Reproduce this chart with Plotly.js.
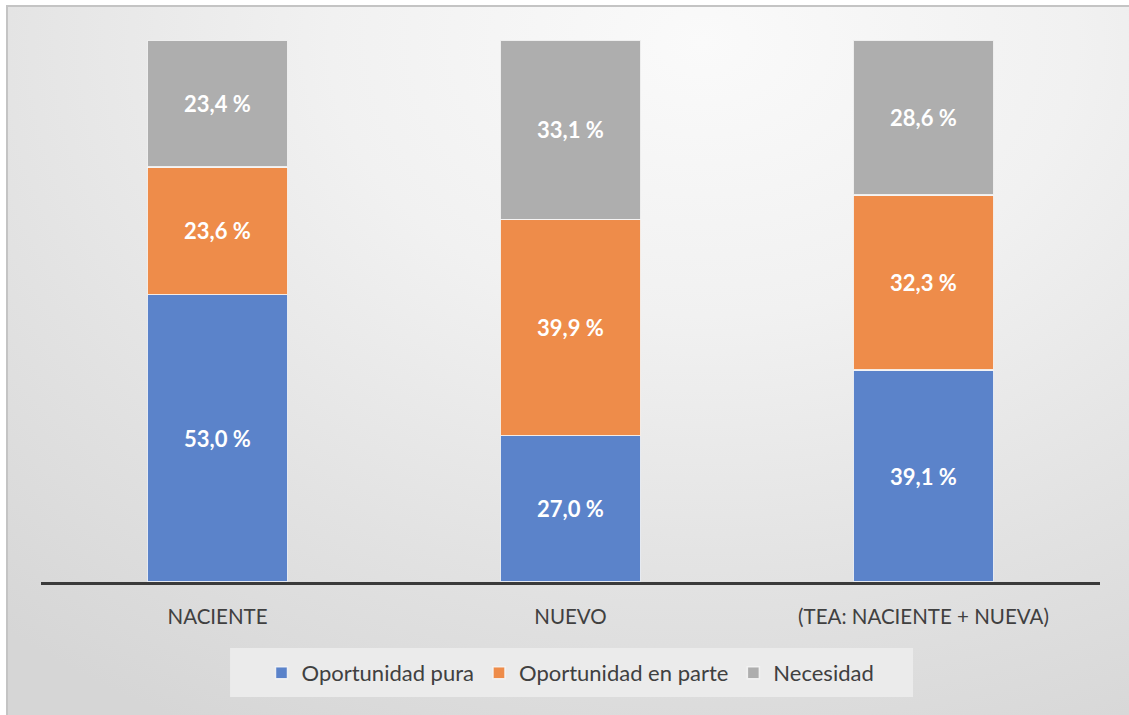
<!DOCTYPE html>
<html>
<head>
<meta charset="utf-8">
<script src="https://cdn.plot.ly/plotly-3.0.1.min.js"></script>
<style>
  html, body { margin: 0; padding: 0; background: #ffffff; }
  #frame {
    position: absolute; left: 6px; top: 5px; width: 1123px; height: 710px;
    border-left: 2px solid #c4c4c4; border-top: 2px solid #c4c4c4;
    box-sizing: border-box;
    background: radial-gradient(ellipse 95% 110% at 62% 5%, #fafafa 0%, #f1f1f1 35%, #e2e2e2 70%, #d6d6d6 100%);
  }
  #chart { position: absolute; left: 0; top: 0; width: 1129px; height: 715px; }
</style>
</head>
<body>
<div id="frame"></div>
<div id="chart"></div>
<script>
const categories = ["NACIENTE", "NUEVO", "(TEA: NACIENTE + NUEVA)"];
const oportunidadPura = [53.0, 27.0, 39.1];
const oportunidadEnParte = [23.6, 39.9, 32.3];
const necesidad = [23.4, 33.1, 28.6];
const seriesNames = ["Oportunidad pura", "Oportunidad en parte", "Necesidad"];
const seriesColors = ["#5B83CA", "#EE8C4A", "#AEAEAE"];
const seriesValues = [oportunidadPura, oportunidadEnParte, necesidad];

const traces = seriesValues.map((vals, i) => ({
  type: "bar",
  name: seriesNames[i],
  x: categories,
  y: vals,
  marker: { color: seriesColors[i], line: { color: "rgba(245,245,245,0.9)", width: 1.5 } },
  texttemplate: "%{y:.1f} %",
  textposition: "inside",
  insidetextanchor: "middle",
  textangle: 0,
  textfont: { family: "Lato, 'Open Sans', sans-serif", size: 22, color: "#ffffff", weight: 700 },
  hoverinfo: "skip"
}));

const layout = {
  width: 1129, height: 715,
  barmode: "stack",
  bargap: 0.603,
  separators: ", ",
  paper_bgcolor: "rgba(0,0,0,0)",
  plot_bgcolor: "rgba(0,0,0,0)",
  margin: { l: 41, r: 29, t: 40, b: 133 },
  font: { family: "Lato, 'Open Sans', sans-serif", color: "#404040", size: 20.5 },
  xaxis: {
    showline: true, linecolor: "#3a3a3a", linewidth: 2.5,
    showgrid: false, zeroline: false, ticks: "",
    ticklabelstandoff: 15,
    tickfont: { size: 20.5, color: "#404040" }
  },
  yaxis: { range: [0, 100], visible: false, fixedrange: true },
  shapes: [{
    type: "rect", xref: "paper", yref: "paper",
    x0: 0.1785, x1: 0.8234, y0: -0.2122, y1: -0.1218,
    fillcolor: "#ebebeb", line: { width: 0 }, layer: "below"
  }],
  showlegend: true,
  legend: {
    orientation: "h", x: 0.5, xanchor: "center", y: -0.168, yanchor: "middle",
    bgcolor: "rgba(0,0,0,0)",
    borderwidth: 0,
    font: { size: 22, color: "#404040" },
    traceorder: "normal",
    itemwidth: 30
  }
};

Plotly.newPlot("chart", traces, layout, { staticPlot: true, displayModeBar: false });
</script>
</body>
</html>
